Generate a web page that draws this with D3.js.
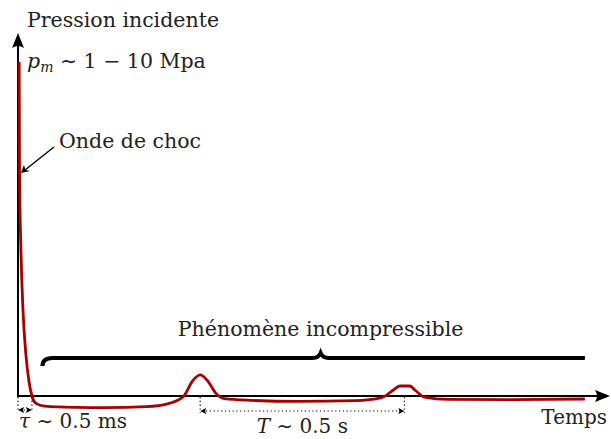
<!DOCTYPE html>
<html>
<head>
<meta charset="utf-8">
<script src="https://cdn.jsdelivr.net/npm/d3@7"></script>
<style>
  body { margin: 0; background: #fff; }
  text { font-family: "DejaVu Serif", serif; fill: #222; }
</style>
</head>
<body>
<div id="chart"></div>
<script>
let svgWidth = 611;
let svgHeight = 439;

// curve (time in arbitrary units, pressure in arbitrary units, pm = 10)
let timeValues = [0.2, 0.26, 0.5, 0.85, 1.35, 1.9, 2.4, 3.1, 4.6, 10, 15, 22, 26, 28.5, 30, 31.3, 32.6, 34, 35.5, 40, 48, 58, 62.5, 64.5, 65.6, 67.3, 68.4, 69.8, 74, 85, 97.4];
let pressureValues = [10.0, 6.7, 4.4, 2.6, 1.25, 0.42, 0.0, -0.22, -0.30, -0.34, -0.35, -0.32, -0.22, 0.0, 0.45, 0.63, 0.45, 0.08, -0.08, -0.13, -0.16, -0.14, -0.05, 0.18, 0.30, 0.30, 0.15, -0.03, -0.10, -0.11, -0.09];

// annotation spans (in time units)
let tauSpan = [0, 2.4];
let periodSpan = [31.3, 66.4];
let braceSpan = [4.2, 97.4];
let braceTip = 52;

let svg = d3.select("#chart")
            .append("svg")
            .attr("width", svgWidth)
            .attr("height", svgHeight);

let xScale = d3.scaleLinear().domain([0, 100]).range([18, 600]);
let yScale = d3.scaleLinear().domain([0, 10]).range([396, 62]);

let x0 = xScale(0), y0 = yScale(0);

// Axes with stealth arrow heads
svg.append("line")
    .attr("x1", x0).attr("y1", y0 + 1)
    .attr("x2", x0).attr("y2", 44)
    .attr("stroke", "black").attr("stroke-width", 2);
svg.append("line")
    .attr("x1", x0 - 1).attr("y1", y0)
    .attr("x2", 600).attr("y2", y0)
    .attr("stroke", "black").attr("stroke-width", 2);

svg.append("path")
    .attr("d", `M${x0},33 L${x0 + 6},48 Q${x0},44 ${x0 - 6},48 Z`)
    .attr("fill", "black");
svg.append("path")
    .attr("d", `M610,${y0} L595,${y0 - 6} Q599,${y0} 595,${y0 + 6} Z`)
    .attr("fill", "black");

// Brace over the incompressible phase
let bx1 = xScale(braceSpan[0]), bx2 = xScale(braceSpan[1]);
let bmid = xScale(braceTip);
let by = 358;
svg.append("path")
    .attr("d", `M${bx1},${by + 8} Q${bx1},${by} ${bx1 + 10},${by} L${bmid - 8},${by} Q${bmid - 2},${by} ${bmid},${by - 5} Q${bmid + 2},${by} ${bmid + 8},${by} L${bx2},${by}`)
    .attr("fill", "none")
    .attr("stroke", "black")
    .attr("stroke-width", 4);

// Pressure curve
let line = d3.line()
    .x((d, i) => xScale(timeValues[i]))
    .y(d => yScale(d))
    .curve(d3.curveMonotoneX);

svg.append("path")
    .datum(pressureValues)
    .attr("d", line)
    .attr("fill", "none")
    .attr("stroke", "#a80000")
    .attr("stroke-width", 2.8);

// Dotted spans with double arrows
function span(a, b, yb) {
    let xa = xScale(a), xb = xScale(b);
    let g = svg.append("g");
    [xa, xb].forEach(x => {
        g.append("line")
            .attr("x1", x).attr("y1", y0 + 1)
            .attr("x2", x).attr("y2", yb + 2)
            .attr("stroke", "black").attr("stroke-width", 1.2)
            .attr("stroke-dasharray", "1.2,2.6");
    });
    g.append("line")
        .attr("x1", xa + 2).attr("y1", yb)
        .attr("x2", xb - 2).attr("y2", yb)
        .attr("stroke", "black").attr("stroke-width", 1.2)
        .attr("stroke-dasharray", "1.2,2.6");
    g.append("path")
        .attr("d", `M${xa},${yb} L${xa + 6},${yb - 3} L${xa + 5},${yb} L${xa + 6},${yb + 3} Z`)
        .attr("fill", "black");
    g.append("path")
        .attr("d", `M${xb},${yb} L${xb - 6},${yb - 3} L${xb - 5},${yb} L${xb - 6},${yb + 3} Z`)
        .attr("fill", "black");
}
span(tauSpan[0], tauSpan[1], 410);
span(periodSpan[0], periodSpan[1], 411);

// Shock wave arrow
svg.append("line")
    .attr("x1", 54).attr("y1", 147)
    .attr("x2", 25).attr("y2", 170)
    .attr("stroke", "black").attr("stroke-width", 1.4);
svg.append("path")
    .attr("d", "M21,173 L24,165 L25.5,170 L30,171 Z")
    .attr("fill", "black");

// Labels
svg.append("text").attr("x", 27).attr("y", 27)
    .attr("font-size", 20.5).text("Pression incidente");

let pm = svg.append("text").attr("x", 27).attr("y", 68).attr("font-size", 20.5);
pm.append("tspan").attr("font-style", "italic").text("p");
pm.append("tspan").attr("font-style", "italic").attr("font-size", 14).attr("dy", 4).text("m");
pm.append("tspan").attr("dy", -4).text(" ∼ 1 − 10 Mpa");

svg.append("text").attr("x", 59).attr("y", 148)
    .attr("font-size", 20.5).text("Onde de choc");

svg.append("text").attr("x", bmid).attr("y", 336)
    .attr("text-anchor", "middle")
    .attr("font-size", 20.5).text("Phénomène incompressible");

let tau = svg.append("text").attr("x", 19).attr("y", 428).attr("font-size", 20);
tau.append("tspan").attr("font-style", "italic").text("τ");
tau.append("tspan").text(" ∼ 0.5 ms");

let per = svg.append("text").attr("x", (xScale(periodSpan[0]) + xScale(periodSpan[1])) / 2)
    .attr("y", 433).attr("text-anchor", "middle").attr("font-size", 20);
per.append("tspan").attr("font-style", "italic").text("T");
per.append("tspan").text(" ∼ 0.5 s");

svg.append("text").attr("x", 607).attr("y", 424)
    .attr("text-anchor", "end")
    .attr("font-size", 20).text("Temps");
</script>
</body>
</html>
